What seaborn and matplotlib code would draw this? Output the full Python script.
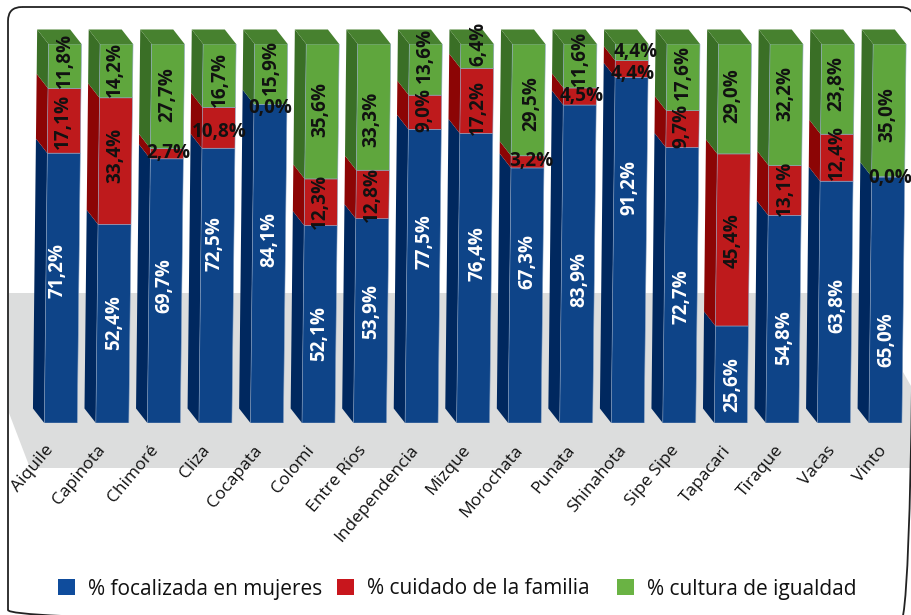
import matplotlib
matplotlib.use("Agg")
import matplotlib.pyplot as plt
import numpy as np
import seaborn as sns
from matplotlib.patches import Polygon, FancyBboxPatch, Rectangle
from matplotlib.transforms import Affine2D

municipios = ["Aiquile", "Capinota", "Chimoré", "Cliza", "Cocapata", "Colomi", "Entre Ríos",
              "Independencia", "Mizque", "Morochata", "Punata", "Shinahota", "Sipe Sipe",
              "Tapacari", "Tiraque", "Vacas", "Vinto"]
mujeres = [71.2, 52.4, 69.7, 72.5, 84.1, 52.1, 53.9, 77.5, 76.4, 67.3, 83.9, 91.2, 72.7, 25.6, 54.8, 63.8, 65.0]
familia = [17.1, 33.4, 2.7, 10.8, 0.0, 12.3, 12.8, 9.0, 17.2, 3.2, 4.5, 4.4, 9.7, 45.4, 13.1, 12.4, 0.0]
igualdad = [11.8, 14.2, 27.7, 16.7, 15.9, 35.6, 33.3, 13.6, 6.4, 29.5, 11.6, 4.4, 17.6, 29.0, 32.2, 23.8, 35.0]
series_names = ["% focalizada en mujeres", "% cuidado de la familia", "% cultura de igualdad"]

# label placement nudges in pixels from the segment centre (up, right)
up_m = [18, 1, 5, 42, 24, -9, 9, 35, 25, 34, -15, 63, -11, -10, -18, -3, -40]
up_f = [-1, 6, 1, -4, -4, 1, 0, 2, -7, 1, 0, -5, 3, -1, 2, 5, -1]
up_i = [6, 1, 2, -4, 7, 2, -12, 14, 12, -4, 8, 0, 5, 3, 11, 6, -4]
right_m = [-5, 1, -1, -2, 1, 0, 0, 1, 3, 1, 1, 0, 1, 1, 1, 2, 0]
right_f = [-1, 0, 1, 1, 0, -1, -1, -1, 1, 4, 2, 1, -1, 0, 0, 0, 2]
right_i = [0, -1, 0, 1, 0, -2, -2, -1, 1, 3, 0, 4, 0, -2, -1, -1, -2]

W, H = 911, 615
Y0, Y100 = 423, 44
STEP = 51.54
BAR_W = 33
X_FIRST = 44.3 + BAR_W / 2
SHEAR_PX = 4.2
DEPTH_X, DEPTH_Y = 11.5, 14.5

FRONT = ["#0e4488", "#be1a1c", "#5fa63d"]
SIDE = ["#00285f", "#8c0505", "#3a6f26"]
TOPC = "#47812f"
LEG = ["#0f4c9c", "#c8161d", "#6ab344"]
LEG_X = [58, 337, 617]
TXT = ["white", "#111111", "#111111"]
FONT = "Open Sans"

sns.set_theme(style="white")
plt.rcParams["font.family"] = [FONT, "DejaVu Sans"]
fig = plt.figure(figsize=(W / 100, H / 100), dpi=100)
fig.patch.set_facecolor("white")

ax = fig.add_axes([0, 1 - Y0 / H, 1, (Y0 - Y100) / H])
ax.patch.set_alpha(0)
ax.set_zorder(2)

bg = fig.add_axes([0, 0, 1, 1], zorder=0)
bg.set_xlim(0, W); bg.set_ylim(H, 0); bg.axis("off")
bg.add_patch(Polygon([(9, 293), (W, 293), (W, 468), (30, 468), (9, 413)], fc="#dcdddd", ec="none"))
bg.add_patch(Polygon([(903, 372), (W, 386), (W, 293), (903, 293)], fc="white", ec="none"))
bg.add_patch(FancyBboxPatch((8, 7), 906, 617, boxstyle="round,pad=0,rounding_size=14",
                            fc="none", ec="#222222", lw=1.3))

n = len(municipios)
m = np.array(mujeres); f = np.array(familia); g = np.array(igualdad)
bottoms = [np.zeros(n), m, m + f]
tops = [m, m + f, np.minimum(m + f + g, 100)]
vals = [m, f, np.minimum(g, 100 - m - f)]

for k in range(3):
    sns.barplot(x=municipios, y=vals[k], bottom=bottoms[k], color=FRONT[k], saturation=1,
                width=BAR_W / STEP, ax=ax, zorder=3, edgecolor="#8ea5c4", linewidth=0.4, errorbar=None)

x0 = -X_FIRST / STEP
ax.set_xlim(x0, x0 + W / STEP)
ax.set_ylim(0, 100)
k_shear = (SHEAR_PX / STEP) / 100
shear = Affine2D.from_values(1, 0, k_shear, 1, 0, 0)
for p in ax.patches:
    p.set_transform(shear + ax.transData)

dx = DEPTH_X / STEP
dy = DEPTH_Y / ((Y0 - Y100) / 100)
hw = BAR_W / STEP / 2
for i in range(n):
    for k in range(3):
        b, t = bottoms[k][i], tops[k][i]
        if t <= b:
            continue
        ax.add_patch(Polygon([(i - hw, b), (i - hw - dx, b + dy), (i - hw - dx, t + dy), (i - hw, t)],
                             fc=SIDE[k], ec="none", zorder=2, clip_on=False,
                             transform=shear + ax.transData))
    ax.add_patch(Polygon([(i - hw, 100), (i - hw - dx, 100 + dy), (i + hw - dx, 100 + dy), (i + hw, 100)],
                         fc=TOPC, ec="none", zorder=2, clip_on=False, transform=shear + ax.transData))

ax.set_yticks([])
ax.set_xticks(range(n))
ax.set_xticklabels(municipios, rotation=50, ha="right", rotation_mode="anchor", fontsize=12.5, color="#111111")
ax.tick_params(axis="x", length=0, pad=14)
for i, lab in enumerate(ax.get_xticklabels()):
    lab.set_family([FONT, "DejaVu Sans"])
    lab.set_transform(lab.get_transform() + Affine2D().translate(-7 - 9 * (1 - i / (n - 1)), 0))
sns.despine(ax=ax, left=True, bottom=True)
ax.grid(False)

ups = [up_m, up_f, up_i]
rights = [right_m, right_f, right_i]
series = [mujeres, familia, igualdad]
for k in range(3):
    for i in range(n):
        v = series[k][i]
        mid = bottoms[k][i] + v / 2
        x = i + k_shear * mid
        horiz = k > 0 and (v < 5 or v == 10.8)
        ax.annotate(f"{v:.1f}%".replace(".", ","), xy=(x, mid), xytext=(rights[k][i], ups[k][i]),
                    textcoords="offset pixels", rotation=0 if horiz else 90, ha="center", va="center",
                    color=TXT[k], fontsize=13.6, fontweight="bold", zorder=6, annotation_clip=False)

for c, name, lx in zip(LEG, series_names, LEG_X):
    leg = fig.legend([Rectangle((0, 0), 1, 1, fc=c, ec="none")], [name], loc="center left",
                     bbox_to_anchor=(lx / W, 1 - 589 / H), frameon=False, fontsize=15,
                     handlelength=0.82, handleheight=0.82, handletextpad=0.62,
                     borderpad=0, borderaxespad=0)
    leg.get_texts()[0].set_color("#111111")

fig.savefig("out.png", dpi=100)
